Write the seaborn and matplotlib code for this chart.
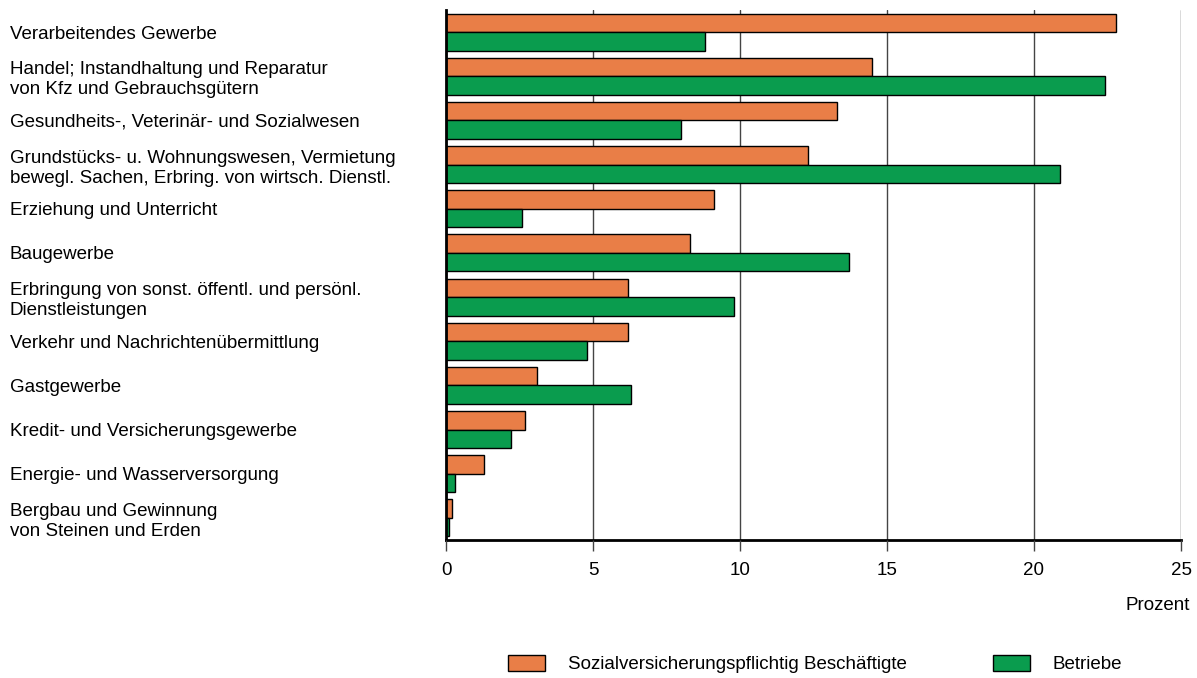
import matplotlib
matplotlib.use("Agg")
import matplotlib.pyplot as plt
import seaborn as sns
import pandas as pd
from matplotlib.patches import Patch

categories = [
    "Verarbeitendes Gewerbe",
    "Handel; Instandhaltung und Reparatur\nvon Kfz und Gebrauchsgütern",
    "Gesundheits-, Veterinär- und Sozialwesen",
    "Grundstücks- u. Wohnungswesen, Vermietung\nbewegl. Sachen, Erbring. von wirtsch. Dienstl.",
    "Erziehung und Unterricht",
    "Baugewerbe",
    "Erbringung von sonst. öffentl. und persönl.\nDienstleistungen",
    "Verkehr und Nachrichtenübermittlung",
    "Gastgewerbe",
    "Kredit- und Versicherungsgewerbe",
    "Energie- und Wasserversorgung",
    "Bergbau und Gewinnung\nvon Steinen und Erden",
]
beschaeftigte = [22.8, 14.5, 13.3, 12.3, 9.1, 8.3, 6.2, 6.2, 3.1, 2.7, 1.3, 0.2]
betriebe = [8.8, 22.4, 8.0, 20.9, 2.6, 13.7, 9.8, 4.8, 6.3, 2.2, 0.3, 0.1]
series_names = ["Sozialversicherungspflichtig Beschäftigte", "Betriebe"]
xticks = [0, 5, 10, 15, 20, 25]

colors = ["#E97E47", "#0A9C4E"]

df = pd.DataFrame({
    "Kategorie": categories * 2,
    "Wert": beschaeftigte + betriebe,
    "Serie": [series_names[0]] * len(categories) + [series_names[1]] * len(categories),
})

sns.set_theme(style="white")
plt.rcParams["font.family"] = ["Liberation Sans", "DejaVu Sans"]
plt.rcParams["text.color"] = "black"
plt.rcParams["xtick.labelcolor"] = "black"
plt.rcParams["ytick.labelcolor"] = "black"

FS = 13.5

fig = plt.figure(figsize=(11.97, 6.78), dpi=100)
ax = fig.add_axes([446 / 1197, 1 - 540 / 678, (1181 - 446) / 1197, (540 - 10) / 678])

sns.barplot(data=df, y="Kategorie", x="Wert", hue="Serie", orient="h",
            palette=colors, width=0.84, edgecolor="black", linewidth=1.0,
            ax=ax, legend=False, saturation=1)

ax.set_xlim(0, 25)
ax.set_ylim(len(categories) - 0.5, -0.5)
ax.set_xticks(xticks)
ax.set_xticklabels([str(t) for t in xticks])
ax.set_xlabel("")
ax.set_ylabel("")
ax.xaxis.grid(True, color="#444444", linewidth=1.0)
ax.set_axisbelow(True)
for s in ["top", "right"]:
    ax.spines[s].set_visible(False)
ax.spines["left"].set_color("black")
ax.spines["left"].set_linewidth(2)
ax.spines["bottom"].set_color("black")
ax.spines["bottom"].set_linewidth(2)
ax.tick_params(axis="x", which="major", length=0, pad=16, labelsize=FS, labelcolor="black")
ax.tick_params(axis="y", left=False, length=0, pad=314, labelcolor="black")
# explicit tick marks below the axis at the tick positions
ax.vlines(xticks, 0, -11 / 530, transform=ax.get_xaxis_transform(), colors="#444444",
          linewidth=1.0, clip_on=False, zorder=5)
for lbl in ax.get_yticklabels():
    lbl.set_horizontalalignment("left")
    lbl.set_fontsize(FS)
    lbl.set_linespacing(1.25)
    lbl.set_color("black")

fig.text(1190 / 1197, 1 - 606 / 678, "Prozent", ha="right", va="center", fontsize=FS, color="black")

handles = [Patch(facecolor=colors[0], edgecolor="black", linewidth=1.0),
           Patch(facecolor=colors[1], edgecolor="black", linewidth=1.0)]
leg = fig.legend(handles, series_names, loc="center", bbox_to_anchor=(815 / 1197, 1 - 664 / 678),
                 ncol=2, frameon=False, fontsize=FS, handlelength=2.0, handleheight=1.0,
                 handletextpad=1.2, columnspacing=4.6)
for t in leg.get_texts():
    t.set_color("black")

fig.savefig("out.png", dpi=100)
